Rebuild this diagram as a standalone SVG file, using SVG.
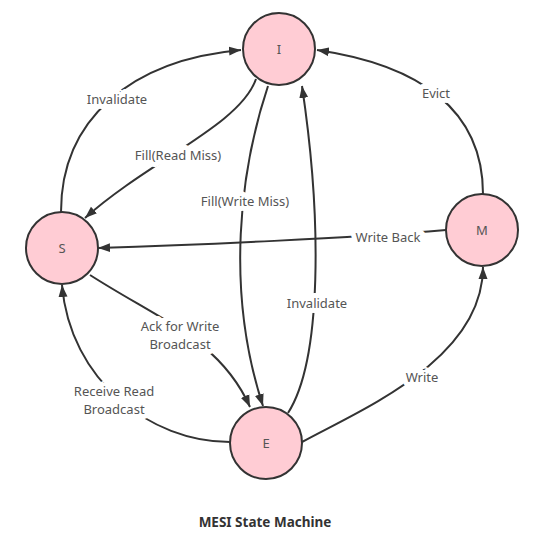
<svg xmlns="http://www.w3.org/2000/svg" width="540" height="545" viewBox="0 0 540 545">
<defs>
<style>
.node circle{fill:#ffccd4;stroke:#333;stroke-width:2}
.node text{font-family:"Noto Sans","Open Sans",sans-serif;font-size:13px;fill:#555;text-anchor:middle;dominant-baseline:central}
.edge path{fill:none;stroke:#333;stroke-width:2;marker-end:url(#arr)}
.bg{fill:#fff}
.lbl{font-family:"Noto Sans","Open Sans",sans-serif;font-size:13px;fill:#555;text-anchor:middle;dominant-baseline:central;stroke:#fff;stroke-width:10;paint-order:stroke;stroke-linejoin:round}
.title{font-family:"Noto Sans","Open Sans",sans-serif;font-size:13.5px;font-weight:bold;fill:#333;text-anchor:middle}
</style>
<marker id="arr" markerUnits="userSpaceOnUse" markerWidth="13" markerHeight="10" refX="12" refY="5" orient="auto">
<path d="M0,0.5 L12,5 L0,9.5 Z" fill="#333"/>
</marker>
</defs>
<rect width="540" height="545" fill="#fff"/>
<g id="connectors">
<g class="edge"><path d="M61 212 C61 120 130 60 241 50"/></g>
<g class="edge"><path d="M256 79 C240 125 150 160 85 218"/></g>
<g class="edge"><path d="M268 86 C240 170 225 290 263 406"/></g>
<g class="edge"><path d="M288 413 C322 360 322 220 302 86"/></g>
<g class="edge"><path d="M483 194 C483 110 420 65 317 50"/></g>
<g class="edge"><path d="M446 230 C350 238 200 245 98 248"/></g>
<g class="edge"><path d="M302 442 C360 410 483 360 483 267"/></g>
<g class="edge"><path d="M90 275 C160 320 220 340 250 407"/></g>
<g class="edge"><path d="M230 442 C150 442 70 380 62 285"/></g>
<rect class="bg" x="142" y="318" width="76" height="34"/>
<rect class="bg" x="74" y="383" width="80" height="34"/>
<text class="lbl" x="117" y="99">Invalidate</text>
<text class="lbl" x="178" y="155">Fill(Read Miss)</text>
<text class="lbl" x="245" y="201">Fill(Write Miss)</text>
<text class="lbl" x="317" y="303">Invalidate</text>
<text class="lbl" x="436" y="93">Evict</text>
<text class="lbl" x="388" y="237">Write Back</text>
<text class="lbl" x="422" y="377">Write</text>
<text class="lbl" x="180" y="326">Ack for Write<tspan x="180" dy="18">Broadcast</tspan></text>
<text class="lbl" x="114" y="391">Receive Read<tspan x="114" dy="18">Broadcast</tspan></text>
</g>
<g id="node-I" class="node"><circle cx="279" cy="49" r="36"/><text x="279" y="49">I</text></g>
<g id="node-S" class="node"><circle cx="62" cy="248" r="36"/><text x="62" y="248">S</text></g>
<g id="node-M" class="node"><circle cx="482" cy="230" r="36"/><text x="482" y="230">M</text></g>
<g id="node-E" class="node"><circle cx="266" cy="443" r="36"/><text x="266" y="443">E</text></g>
<text id="title" class="title" x="265" y="527">MESI State Machine</text>
</svg>
